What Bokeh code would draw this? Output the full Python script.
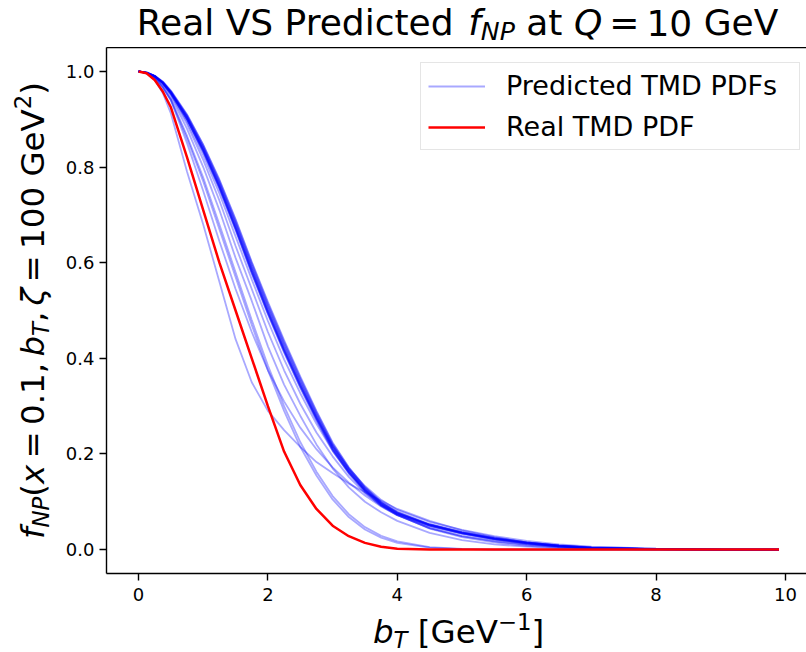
from bokeh.plotting import figure
from bokeh.layouts import column, row
from bokeh.models import (Range1d, LinearAxis, FixedTicker, Legend,
                          LegendItem, PrintfTickFormatter)
from bokeh.core.properties import value
from bokeh.embed import file_html
from bokeh.resources import INLINE

# ---------------- data ----------------
b_T = [0, 0.125, 0.25, 0.375, 0.5, 0.75, 1.0, 1.25, 1.5, 1.75, 2.0, 2.25, 2.5,
       2.75, 3.0, 3.25, 3.5, 3.75, 4.0, 4.5, 5.0, 5.5, 6.0, 6.5, 7.0, 8.0, 9.0, 9.9]

real_pdf = [1.0, .996, .982, .958, .925, .82, .71, .60, .50, .40, .30, .205,
            .135, .085, .05, .028, .014, .006, .002, .0003, 0, 0, 0, 0, 0, 0, 0, 0]

pred_1 = [1.0, .997, .99, .977, .957, .905, .84, .765, .68, .59, .505, .425, .35,
          .28, .215, .165, .125, .095, .075, .05, .034, .022, .013, .007, .003, .001, 0, 0]
pred_2 = [1.0, .997, .99, .975, .954, .899, .832, .755, .668, .577, .492, .412,
          .338, .27, .207, .159, .12, .091, .072, .048, .033, .021, .012, .006, .003, .001, 0, 0]
pred_3 = [1.0, .998, .991, .979, .96, .91, .847, .774, .691, .602, .518, .438,
          .362, .29, .224, .172, .131, .1, .079, .053, .036, .023, .014, .007, .003, .001, 0, 0]
pred_4 = [1.0, .997, .99, .976, .956, .902, .836, .76, .674, .584, .498, .418,
          .344, .275, .211, .162, .123, .093, .074, .05, .035, .023, .014, .008, .004, .001, 0, 0]
pred_5 = [1.0, .998, .991, .978, .958, .907, .843, .769, .685, .596, .511, .431,
          .356, .285, .219, .168, .128, .098, .077, .052, .036, .024, .015, .008, .004, .001, 0, 0]
pred_6 = [1.0, .997, .99, .976, .955, .9, .834, .757, .671, .58, .495, .416,
          .343, .276, .216, .17, .133, .104, .083, .058, .041, .028, .018, .011, .006, .002, .0005, 0]
pred_7 = [1.0, .997, .99, .977, .957, .904, .838, .762, .677, .587, .501, .421,
          .347, .278, .214, .165, .126, .097, .076, .051, .034, .022, .013, .007, .003, .001, 0, 0]
pred_8 = [1.0, .997, .988, .972, .948, .88, .8, .71, .61, .52, .425, .345, .28,
          .22, .17, .13, .1, .078, .06, .035, .02, .011, .006, .003, .001, 0, 0, 0]
pred_9 = [1.0, .997, .989, .974, .952, .89, .815, .73, .635, .545, .455, .375,
          .305, .245, .195, .152, .118, .092, .072, .045, .028, .018, .011, .006, .003, .001, 0, 0]
pred_10 = [1.0, .997, .989, .975, .953, .895, .825, .745, .655, .565, .478, .398,
           .327, .263, .207, .161, .124, .095, .073, .044, .026, .015, .008, .004, .002, 0, 0, 0]
pred_11 = [1.0, .996, .985, .966, .94, .86, .77, .67, .57, .47, .375, .29, .215,
           .155, .105, .068, .042, .025, .014, .004, .001, 0, 0, 0, 0, 0, 0, 0]
pred_12 = [1.0, .996, .986, .968, .942, .865, .778, .68, .58, .48, .385, .3,
           .225, .163, .112, .074, .047, .029, .017, .005, .0015, 0, 0, 0, 0, 0, 0, 0]
pred_13 = [1.0, .996, .983, .955, .912, .79, .68, .56, .44, .35, .29, .25,
           .215, .183, .16, .138, .12, .102, .085, .06, .04, .026, .015, .008, .004, .001, 0, 0]
pred_14 = [1.0, .997, .987, .967, .94, .85, .75, .645, .545, .455, .375, .31,
           .255, .21, .172, .14, .113, .09, .072, .045, .028, .017, .01, .005, .002, 0, 0, 0]
pred_15 = [1.0, .997, .99, .976, .955, .901, .835, .759, .673, .583, .497, .417,
           .343, .274, .211, .163, .124, .095, .076, .052, .036, .024, .015, .009, .005, .002, .0005, 0]
pred_16 = [1.0, .997, .99, .977, .957, .906, .841, .766, .682, .592, .507, .427,
           .352, .282, .218, .168, .128, .098, .078, .053, .037, .025, .015, .009, .004, .001, 0, 0]
pred_17 = [1.0, .998, .991, .978, .959, .909, .846, .772, .689, .6, .515, .435,
           .359, .288, .222, .171, .13, .099, .078, .052, .035, .023, .014, .008, .004, .001, 0, 0]
pred_18 = [1.0, .997, .99, .976, .955, .9, .833, .756, .67, .579, .494, .414,
           .34, .272, .209, .161, .122, .093, .074, .05, .034, .022, .013, .007, .003, .001, 0, 0]

predicted = [pred_1, pred_2, pred_3, pred_4, pred_5, pred_6, pred_7, pred_8,
             pred_9, pred_10, pred_11, pred_12, pred_13, pred_14, pred_15,
             pred_16, pred_17, pred_18]

x_ticks = [0, 2, 4, 6, 8, 10]
y_ticks = [0.0, 0.2, 0.4, 0.6, 0.8, 1.0]

legend_labels = ["Predicted TMD PDFs", "Real TMD PDF"]

FONT = "DejaVu Sans"

# ---------------- main figure ----------------
p = figure(width=750, height=561, output_backend="svg", toolbar_location=None,
           x_range=Range1d(-0.495, 10.325), y_range=Range1d(-0.05, 1.05),
           min_border_left=50, min_border_right=0, min_border_top=0,
           min_border_bottom=35)
p.outline_line_color = None
p.grid.visible = False
p.background_fill_color = "white"
p.border_fill_color = "white"

for ax in (p.xaxis[0], p.yaxis[0]):
    ax.axis_line_color = "black"
    ax.axis_line_width = 1.4
    ax.major_tick_line_color = "black"
    ax.major_tick_line_width = 1.4
    ax.major_tick_in = 0
    ax.major_tick_out = 7
    ax.minor_tick_line_color = None
    ax.major_label_text_font = FONT
    ax.major_label_text_font_size = "18px"
    ax.major_label_text_color = "black"
    ax.major_label_standoff = 7
p.xaxis[0].ticker = FixedTicker(ticks=x_ticks)
p.yaxis[0].ticker = FixedTicker(ticks=y_ticks)
p.yaxis[0].formatter = PrintfTickFormatter(format="%.1f")
p.yaxis[0].major_label_standoff = 5

top = LinearAxis(ticker=FixedTicker(ticks=[]), major_label_text_font_size="0px",
                 axis_line_color="black", axis_line_width=1.4,
                 major_tick_out=0, major_tick_in=0, major_label_standoff=0,
                 major_tick_line_color=None, minor_tick_line_color=None)
p.add_layout(top, "above")

blue_r = p.multi_line(xs=[b_T] * len(predicted), ys=predicted, line_color="blue",
                      line_alpha=0.34, line_width=1.8)
red_r = p.line(b_T, real_pdf, line_color="red", line_width=2.5)

legend = Legend(items=[LegendItem(label=legend_labels[0], renderers=[blue_r]),
                       LegendItem(label=legend_labels[1], renderers=[red_r])],
                location=(314, 423), label_text_font=FONT,
                label_text_font_size="27px", label_text_color="black",
                glyph_width=57, glyph_height=28, label_height=28,
                label_width=286, label_standoff=21, spacing=10, padding=7,
                border_line_color="#cccccc", border_line_width=1,
                background_fill_color="white", background_fill_alpha=0.8)
p.add_layout(legend)

# ---------------- composed math-like texts ----------------
W = {' ': .318, '(': .390, ')': .390, ',': .318, '.': .318, '=': .838,
     '[': .390, ']': .390, 'G': .775, 'e': .615, 'V': .684, 'R': .695,
     'a': .613, 'l': .278, 'S': .635, 'P': .603, 'r': .411, 'd': .635,
     'i': .278, 'c': .550, 't': .392, 'N': .748, 'Q': .787, 'T': .611,
     'b': .635, 'f': .352, 'x': .592, 'ζ': .51, '−': .838}
for dgt in "0123456789":
    W[dgt] = .636

BASE_FIX = 0.27  # em, compensates the glyph's baseline placement


def em(s):
    return sum(W.get(ch, .6) for ch in s)


def text_fig(w, h):
    f = figure(frame_width=w, frame_height=h, output_backend="svg",
               toolbar_location=None, x_range=Range1d(0, w), y_range=Range1d(0, h),
               min_border=0, x_axis_location=None, y_axis_location=None)
    f.outline_line_color = None
    f.grid.visible = False
    f.background_fill_color = "white"
    f.border_fill_color = "white"
    return f


def place(f, segs, cx, cy, size, angle=0.0):
    total = 0.0
    for t, it, sc, sh, gap in segs:
        total += gap * size + em(t) * sc * size
    pos = -total / 2.0
    for t, it, sc, sh, gap in segs:
        pos += gap * size
        lift = sh * size + BASE_FIX * sc * size
        if angle == 0:
            x, y = cx + pos, cy + lift
        else:
            x, y = cx - lift, cy + pos
        f.text(x=[x], y=[y], text=[t], angle=angle, text_font=value(FONT),
               text_font_size=value("%.1fpx" % (sc * size)),
               text_font_style=value("italic" if it else "normal"),
               text_align="left", text_baseline="alphabetic", text_color="black")
        pos += em(t) * sc * size


SUB, SUP = -0.165, 0.383
title_segs = [("Real VS Predicted", 0, 1, 0, 0), ("f", 1, 1, 0, .318),
              ("NP", 1, .7, SUB, 0), ("at", 0, 1, 0, .318), ("Q", 1, 1, 0, .318),
              ("=", 0, 1, 0, .195), ("10", 0, 1, 0, .195), ("GeV", 0, 1, 0, .318)]
ylab_segs = [("f", 1, 1, 0, 0), ("NP", 1, .7, SUB, 0), ("(", 0, 1, 0, 0),
             ("x", 1, 1, 0, 0), ("=", 0, 1, 0, .195), ("0.1,", 0, 1, 0, .195),
             ("b", 1, 1, 0, .195), ("T", 1, .7, SUB, 0), (",", 0, 1, 0, 0),
             ("ζ", 1, 1, 0, .195), ("=", 0, 1, 0, .195), ("100", 0, 1, 0, .195),
             ("GeV", 0, 1, 0, .318), ("2", 0, .7, SUP, 0), (")", 0, 1, 0, 0)]
xlab_segs = [("b", 1, 1, 0, 0), ("T", 1, .7, SUB, 0), ("[GeV", 0, 1, 0, .318),
             ("−1", 0, .7, SUP, 0), ("]", 0, 1, 0, 0)]

title_fig = text_fig(806, 47)
place(title_fig, title_segs, 457, 15, 36)

ylab_fig = text_fig(56, 561)
place(ylab_fig, ylab_segs, 41, 298, 32.5, angle=1.5707963267948966)

xlab_fig = text_fig(806, 44)
place(xlab_fig, xlab_segs, 458, 12, 32.5)

layout = column(title_fig, row(ylab_fig, p, spacing=0), xlab_fig, spacing=0)

open("out.html", "w").write(file_html(layout, INLINE))
